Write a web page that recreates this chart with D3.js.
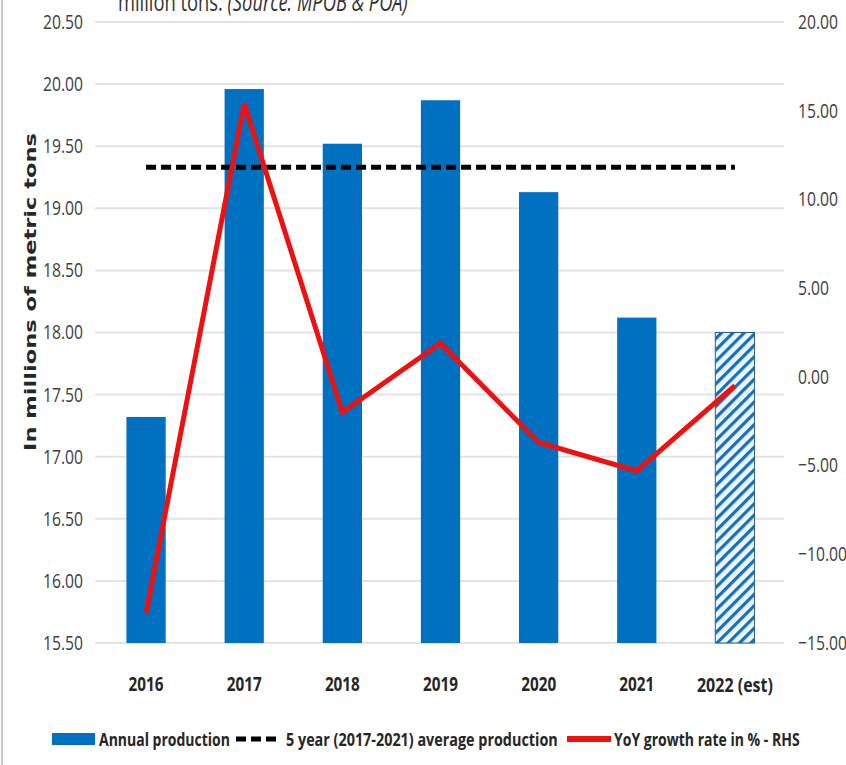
<!DOCTYPE html>
<html>
<head>
<meta charset="utf-8">
<script src="https://cdn.jsdelivr.net/npm/d3@7"></script>
<style>
  html, body { margin: 0; padding: 0; background: #fff; }
  svg { display: block; }
</style>
</head>
<body>
<svg id="chart" width="846" height="765"></svg>
<script>
// Annual production (million metric tons) and year-on-year growth (%)
const years = ["2016", "2017", "2018", "2019", "2020", "2021", "2022 (est)"];
const production = [17.32, 19.96, 19.52, 19.87, 19.13, 18.12, 18.00];
const growth = [-13.3, 15.4, -2.0, 1.9, -3.7, -5.3, -0.5];
const average = 19.33; // 5 year (2017-2021) average
const leftTicks = [15.5, 16, 16.5, 17, 17.5, 18, 18.5, 19, 19.5, 20, 20.5];
const rightTicks = [-15, -10, -5, 0, 5, 10, 15, 20];
const legendLabels = ["Annual production", "5 year (2017-2021) average production", "YoY growth rate in % - RHS"];
const estimateIndex = 6;

const svg = d3.select("#chart");
const W = 846, H = 765;
const m = { top: 22, bottom: 643, left: 97, right: 784 };
const font = "'Open Sans', 'Noto Sans', sans-serif";
const blue = "#0070c0";
const red = "#ee1111";

// narrow-face width of a numeric label
const numWidth = s => Array.from(s).reduce((w, c) => w + (c === "." ? 4 : c === "-" ? 5 : 9), 0);
// squeeze each label horizontally about its anchor point
function narrowNumbers(sel) {
  sel.each(function () {
    const t = d3.select(this);
    const natural = this.getComputedTextLength() || 1;
    t.attr("transform", `scale(${numWidth(t.text()) / natural},1)`);
  });
}
// place a text at (px, py) squeezed to a given run width
function fitText(parent, str, px, py, width) {
  const g = parent.append("g");
  const t = g.append("text").attr("x", 0).attr("y", 0).text(str);
  const natural = t.node().getComputedTextLength() || 1;
  g.attr("transform", `translate(${px},${py}) scale(${width / natural},1)`);
  return t;
}

const x = d3.scaleBand().domain(years).range([m.left, m.right])
  .paddingInner(0.6).paddingOuter(0.3);
const yL = d3.scaleLinear().domain([15.5, 20.5]).range([m.bottom, m.top]);
const yR = d3.scaleLinear().domain([-15, 20]).range([m.bottom, m.top]);
const cx = d => x(d) + x.bandwidth() / 2;

// outer frame edge
svg.append("line").attr("x1", 2).attr("x2", 2).attr("y1", 0).attr("y2", H)
  .attr("stroke", "#c8c8c8").attr("stroke-width", 2);

// hatch pattern for the estimate bar
const defs = svg.append("defs");
const pat = defs.append("pattern").attr("id", "hatch")
  .attr("patternUnits", "userSpaceOnUse").attr("width", 8).attr("height", 8)
  .attr("patternTransform", "rotate(45)");
pat.append("rect").attr("width", 8).attr("height", 8).attr("fill", "#eaf6fd");
pat.append("rect").attr("x", 0).attr("width", 3.2).attr("height", 8).attr("fill", "#1a6fb5");

// title (top edge of the frame crops it), squeezed into a narrow run
const tg = svg.append("g");
const tt = tg.append("text").attr("x", 0).attr("y", 0)
  .attr("font-family", font).attr("font-size", 26).attr("fill", "#333");
tt.append("tspan").text("million tons. ");
tt.append("tspan").attr("font-style", "italic").text("(Source: MPOB & POA)");
const tw = tt.node().getComputedTextLength() || 1;
tg.attr("transform", `translate(118,11) scale(${290 / tw},1)`);

// gridlines
svg.append("g").selectAll("line").data(leftTicks).join("line")
  .attr("x1", m.left - 2).attr("x2", m.right)
  .attr("y1", d => yL(d)).attr("y2", d => yL(d))
  .attr("stroke", "#e3e3e3").attr("stroke-width", 2);

// left axis
const axL = d3.axisLeft(yL).tickValues(leftTicks).tickFormat(d3.format(".2f")).tickSize(0).tickPadding(0);
const gL = svg.append("g").attr("transform", "translate(83,0)").call(axL);
gL.select(".domain").remove();
gL.selectAll("text").attr("font-family", font).attr("font-size", 20).attr("fill", "#404040")
  .call(narrowNumbers);

// right axis
const axR = d3.axisRight(yR).tickValues(rightTicks).tickFormat(d3.format(".2f")).tickSize(0).tickPadding(0);
const gR = svg.append("g").attr("transform", "translate(798,0)").call(axR);
gR.select(".domain").remove();
gR.selectAll("text").attr("font-family", font).attr("font-size", 20).attr("fill", "#404040")
  .call(narrowNumbers);

// bottom axis labels
const axB = d3.axisBottom(x).tickSize(0).tickPadding(0);
const gB = svg.append("g").attr("transform", "translate(0,678)").call(axB);
gB.select(".domain").remove();
gB.selectAll("text").attr("font-family", font).attr("font-size", 19)
  .attr("font-weight", "bold").attr("fill", "#262626")
  .each(function () {
    const t = d3.select(this);
    const natural = this.getComputedTextLength() || 1;
    t.attr("transform", `scale(${(t.text().length > 4 ? 76 : 35) / natural},1)`);
  });

// left axis title
svg.append("text").attr("transform", "translate(36,292) rotate(-90)")
  .attr("text-anchor", "middle").attr("font-family", "'DejaVu Sans', Verdana, sans-serif")
  .attr("font-size", 16).attr("font-weight", "bold").attr("fill", "#262626")
  .attr("textLength", 318).attr("lengthAdjust", "spacingAndGlyphs")
  .text("In millions of metric tons");

// bars
svg.append("g").selectAll("rect").data(years).join("rect")
  .attr("x", d => x(d)).attr("width", x.bandwidth())
  .attr("y", (d, i) => yL(production[i]))
  .attr("height", (d, i) => yL(15.5) - yL(production[i]))
  .attr("fill", (d, i) => i === estimateIndex ? "url(#hatch)" : blue)
  .attr("stroke", (d, i) => i === estimateIndex ? "#2a5d8f" : "none")
  .attr("stroke-width", 1);

// average line
svg.append("line")
  .attr("x1", cx(years[0])).attr("x2", cx(years[years.length - 1]))
  .attr("y1", yL(average)).attr("y2", yL(average))
  .attr("stroke", "#000").attr("stroke-width", 5).attr("stroke-dasharray", "10,5");

// growth line
const line = d3.line().x((d, i) => cx(years[i])).y(d => yR(d));
svg.append("path").datum(growth).attr("d", line)
  .attr("fill", "none").attr("stroke", red).attr("stroke-width", 5)
  .attr("stroke-linejoin", "miter").attr("stroke-miterlimit", 3);

// legend
const lg = svg.append("g").attr("font-family", font).attr("font-size", 18)
  .attr("font-weight", "bold").attr("fill", "#262626");
lg.append("rect").attr("x", 52).attr("y", 733).attr("width", 43).attr("height", 12).attr("fill", blue);
fitText(lg, legendLabels[0], 99, 746, 131);
lg.append("line").attr("x1", 236).attr("x2", 281).attr("y1", 739).attr("y2", 739)
  .attr("stroke", "#000").attr("stroke-width", 5).attr("stroke-dasharray", "10,5");
fitText(lg, legendLabels[1], 286, 746, 272);
lg.append("line").attr("x1", 567).attr("x2", 611).attr("y1", 739).attr("y2", 739)
  .attr("stroke", red).attr("stroke-width", 6);
fitText(lg, legendLabels[2], 614, 746, 186);
</script>
</body>
</html>
